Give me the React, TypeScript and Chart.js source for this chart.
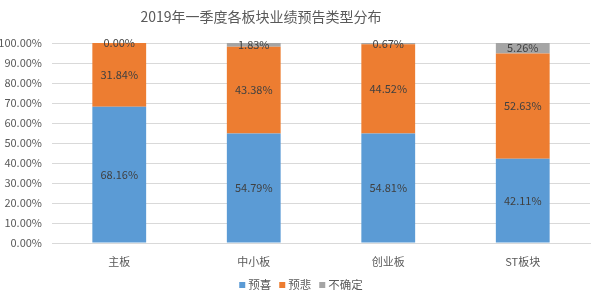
import React, { useEffect, useRef } from "react";
import { Chart, registerables } from "chart.js";

Chart.register(...registerables);

const title = "2019年一季度各板块业绩预告类型分布";
const categories = ["主板", "中小板", "创业板", "ST板块"];
const seriesNames = ["预喜", "预悲", "不确定"];
const yuxi = [68.16, 54.79, 54.81, 42.11];
const yubei = [31.84, 43.38, 44.52, 52.63];
const buqueding = [0.0, 1.83, 0.67, 5.26];
const colors = ["#5B9BD5", "#ED7D31", "#A5A5A5"];

const FONT = "'Noto Sans CJK SC', 'Noto Sans', sans-serif";

const labelPlugin = {
  id: "segLabels",
  afterDatasetsDraw(chart: any) {
    const ctx = chart.ctx;
    ctx.save();
    ctx.font = `11px ${FONT}`;
    ctx.fillStyle = "#404040";
    ctx.textAlign = "center";
    ctx.textBaseline = "middle";
    chart.data.datasets.forEach((ds: any, i: number) => {
      const meta = chart.getDatasetMeta(i);
      meta.data.forEach((bar: any, j: number) => {
        const v = ds.data[j];
        const y = (bar.y + bar.base) / 2;
        ctx.fillText(v.toFixed(2) + "%", bar.x, y);
      });
    });
    ctx.restore();
  },
};

const titleLegendPlugin = {
  id: "customTitleLegend",
  afterDraw(chart: any) {
    const ctx = chart.ctx;
    ctx.save();
    ctx.font = `14px ${FONT}`;
    ctx.fillStyle = "#595959";
    ctx.textAlign = "center";
    ctx.textBaseline = "middle";
    ctx.fillText(title, 261, 17);

    // legend
    ctx.font = `11.5px ${FONT}`;
    ctx.textAlign = "left";
    const box = 6, gap = 3, spacing = 8;
    const widths = chart.data.datasets.map((d: any) => ctx.measureText(d.label).width);
    const total = widths.reduce((a: number, w: number) => a + box + gap + w, 0) + spacing * (widths.length - 1);
    let x = 301 - total / 2;
    const y = 285;
    chart.data.datasets.forEach((d: any, i: number) => {
      ctx.fillStyle = d.backgroundColor;
      ctx.fillRect(x, y - box / 2, box, box);
      x += box + gap;
      ctx.fillStyle = "#595959";
      ctx.fillText(d.label, x, y);
      x += widths[i] + spacing;
    });
    ctx.restore();
  },
};

export default function App() {
  const ref = useRef<HTMLCanvasElement>(null);
  useEffect(() => {
    const chart = new Chart(ref.current!, {
      type: "bar",
      data: {
        labels: categories,
        datasets: [yuxi, yubei, buqueding].map((d, i) => ({
          label: seriesNames[i],
          data: d,
          backgroundColor: colors[i],
          borderWidth: 0,
          categoryPercentage: 1,
          barPercentage: 0.4,
        })),
      },
      options: {
        animation: false,
        responsive: false,
        layout: { padding: { top: 43, right: 10, left: 0, bottom: 19 } },
        plugins: {
          title: { display: false },
          tooltip: { enabled: false },
          legend: { display: false },
        },
        scales: {
          x: {
            stacked: true,
            afterFit(scale: any) {
              scale.height = 33;
            },
            grid: { display: false, drawTicks: false },
            border: { display: true, color: "#D9D9D9" },
            ticks: { color: "#595959", font: { family: FONT, size: 11 }, padding: 12 },
          },
          y: {
            stacked: true,
            min: 0,
            max: 100,
            afterFit(scale: any) {
              scale.width = 52;
            },
            ticks: {
              stepSize: 10,
              color: "#595959",
              font: { family: FONT, size: 11 },
              padding: 10,
              callback: (v: any) => Number(v).toFixed(2) + "%",
            },
            grid: { color: "#D9D9D9", drawTicks: false },
            border: { display: false },
          },
        },
      },
      plugins: [labelPlugin, titleLegendPlugin],
    } as any);
    return () => chart.destroy();
  }, []);
  return (
    <div style={{ position: "fixed", left: 0, top: 0, width: 600, height: 295, background: "#fff" }}>
      <canvas ref={ref} width={600} height={295} />
    </div>
  );
}
